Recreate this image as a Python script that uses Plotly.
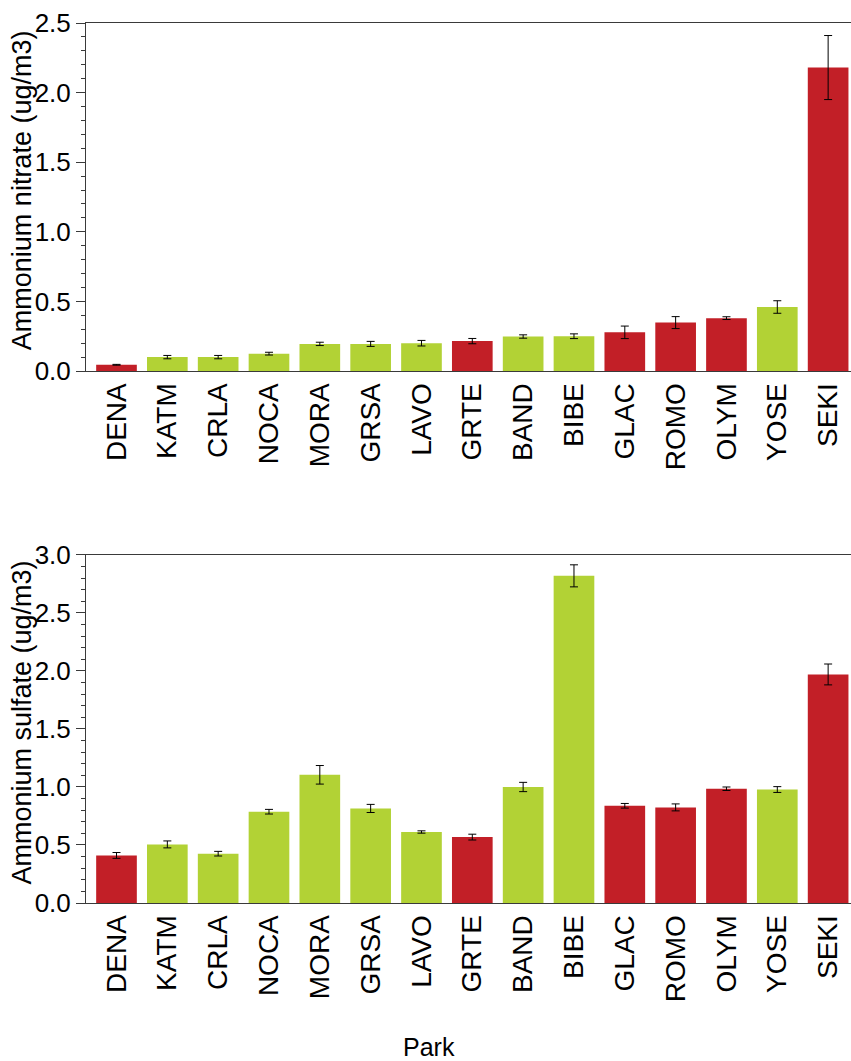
import plotly.graph_objects as go

# parks in the order plotted (sorted by ammonium nitrate)
parks = ["DENA", "KATM", "CRLA", "NOCA", "MORA", "GRSA", "LAVO", "GRTE",
         "BAND", "BIBE", "GLAC", "ROMO", "OLYM", "YOSE", "SEKI"]
# "red" / "green" group for each park
park_group = ["red", "green", "green", "green", "green", "green", "green", "red",
              "green", "green", "red", "red", "red", "green", "red"]

nitrate = [0.045, 0.10, 0.10, 0.125, 0.195, 0.195, 0.20, 0.215,
           0.248, 0.25, 0.278, 0.348, 0.38, 0.46, 2.18]
nitrate_err = [0.003, 0.012, 0.012, 0.01, 0.012, 0.018, 0.02, 0.019,
               0.012, 0.017, 0.045, 0.043, 0.01, 0.045, 0.23]

sulfate = [0.41, 0.505, 0.425, 0.787, 1.105, 0.815, 0.612, 0.568,
           1.0, 2.82, 0.838, 0.824, 0.985, 0.978, 1.97]
sulfate_err = [0.025, 0.03, 0.02, 0.02, 0.08, 0.035, 0.01, 0.025,
               0.04, 0.095, 0.02, 0.03, 0.015, 0.025, 0.09]

RED = "#C21F27"
GREEN = "#B2D235"
FONT = "Liberation Sans, Arial, sans-serif"
AXIS = "#3a3a3a"

colors = [RED if g == "red" else GREEN for g in park_group]

fig = go.Figure()

fig.add_trace(go.Bar(
    x=parks, y=nitrate, marker=dict(color=colors, line=dict(width=0)),
    error_y=dict(type="data", array=nitrate_err, color="black", thickness=1, width=4),
    xaxis="x", yaxis="y", showlegend=False,
))
fig.add_trace(go.Bar(
    x=parks, y=sulfate, marker=dict(color=colors, line=dict(width=0)),
    error_y=dict(type="data", array=sulfate_err, color="black", thickness=1, width=4),
    xaxis="x2", yaxis="y2", showlegend=False,
))

xcommon = dict(
    type="category", range=[-0.6, 14.45], showline=True, linecolor=AXIS, linewidth=1,
    mirror=True, ticks="", tickangle=-90, showgrid=False,
    tickfont=dict(family=FONT, size=28, color="black"),
)
ycommon = dict(
    showline=True, linecolor=AXIS, linewidth=1, showgrid=False, zeroline=False,
    ticks="outside", ticklen=9, tickwidth=1, tickcolor=AXIS, dtick=0.5,
    tickformat=".1f", tickfont=dict(family=FONT, size=26, color="black"),
    minor=dict(dtick=0.1, ticks="outside", ticklen=4, tickcolor=AXIS, tickwidth=1),
)

fig.update_layout(
    width=851, height=1061,
    margin=dict(l=86, r=0, t=23, b=158),
    paper_bgcolor="white", plot_bgcolor="white",
    bargap=0.2,
    xaxis=dict(xcommon, anchor="y"),
    yaxis=dict(ycommon, domain=[0.6045, 1.0], range=[0, 2.5], anchor="x"),
    xaxis2=dict(xcommon, anchor="y2"),
    yaxis2=dict(ycommon, domain=[0.0, 0.3955], range=[0, 3.0], anchor="x2"),
    annotations=[
        dict(text="Ammonium nitrate (ug/m3)", textangle=-90, xref="paper", yref="paper",
             x=-0.0837, y=0.81, xanchor="center", yanchor="middle", showarrow=False,
             font=dict(family=FONT, size=27, color="black")),
        dict(text="Ammonium sulfate (ug/m3)", textangle=-90, xref="paper", yref="paper",
             x=-0.0837, y=0.205, xanchor="center", yanchor="middle", showarrow=False,
             font=dict(family=FONT, size=27, color="black")),
        dict(text="Park", xref="paper", yref="paper", x=0.449, y=-0.164,
             xanchor="center", yanchor="middle", showarrow=False,
             font=dict(family=FONT, size=25, color="black")),
    ],
)

# remove the default page margin so the figure sits at the window's corner
fig.write_html("out.html", config={"displayModeBar": False},
               post_script="document.body.style.margin='0';")
